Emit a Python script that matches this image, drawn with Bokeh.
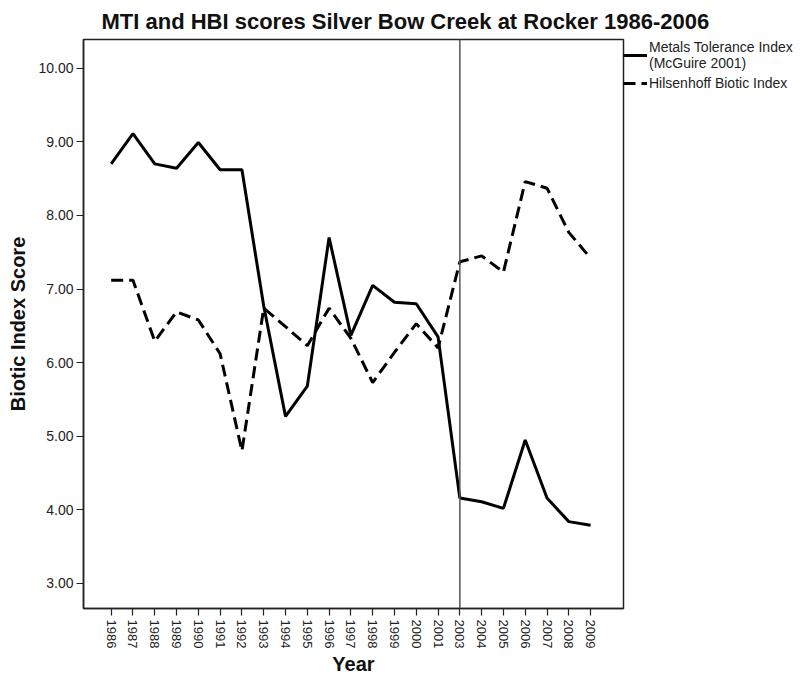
import math
from bokeh.plotting import figure
from bokeh.models import (Range1d, FixedTicker, PrintfTickFormatter, Span, Legend, LegendItem,
                          ColumnDataSource)
from bokeh.embed import file_html
from bokeh.resources import INLINE

years = ["1986", "1987", "1988", "1989", "1990", "1991", "1992", "1993", "1994", "1995",
         "1996", "1997", "1998", "1999", "2000", "2001", "2003", "2004", "2005", "2006",
         "2007", "2008", "2009"]
mti = [8.70, 9.11, 8.70, 8.64, 8.99, 8.62, 8.62, 6.77, 5.27, 5.68, 7.70, 6.37, 7.05, 6.82,
       6.80, 6.35, 4.16, 4.11, 4.02, 4.95, 4.16, 3.84, 3.79]
hbi = [7.12, 7.12, 6.29, 6.69, 6.58, 6.12, 4.80, 6.74, 6.49, 6.23, 6.74, 6.33, 5.73, 6.14,
       6.53, 6.20, 7.37, 7.45, 7.23, 8.46, 8.37, 7.77, 7.42]
y_ticks = [3, 4, 5, 6, 7, 8, 9, 10]
divider_year = "2003"

x_idx = list(range(len(years)))
src = ColumnDataSource(dict(x=x_idx, mti=mti, hbi=hbi))

FONT = "Liberation Sans"

p = figure(frame_width=540, frame_height=569,
           x_range=Range1d(-1.27, len(years) - 1 + 1.51),
           y_range=Range1d(2.66, 10.39),
           output_backend="svg", toolbar_location=None,
           min_border_left=83, min_border_right=172, min_border_top=39, min_border_bottom=66,
           background_fill_color="white", border_fill_color="white")

p.title.text = "MTI and HBI scores Silver Bow Creek at Rocker 1986-2006"
p.title.text_font = FONT
p.title.text_font_size = "22px"
p.title.text_font_style = "bold"
p.title.text_color = "#111111"
p.title.align = "left"
p.title.offset = 18
p.title.standoff = 12

p.xgrid.visible = False
p.ygrid.visible = False
p.outline_line_color = "#222222"
p.outline_line_width = 1.5

# axes
p.xaxis.ticker = FixedTicker(ticks=x_idx)
p.xaxis.major_label_overrides = {i: y for i, y in enumerate(years)}
p.xaxis.major_label_orientation = -math.pi / 2
p.xaxis.axis_label = "Year"
p.yaxis.ticker = FixedTicker(ticks=y_ticks)
p.yaxis.formatter = PrintfTickFormatter(format="%.2f")
p.yaxis.axis_label = "Biotic Index Score"
for ax in (p.xaxis[0], p.yaxis[0]):
    ax.minor_tick_line_color = None
    ax.major_tick_out = 7
    ax.major_tick_in = 0
    ax.major_tick_line_color = "#222222"
    ax.major_tick_line_width = 1.2
    ax.axis_line_color = "#222222"
    ax.axis_line_width = 1.5
    ax.major_label_text_font = FONT
    ax.major_label_text_color = "#222222"
    ax.axis_label_text_font = FONT
    ax.axis_label_text_font_style = "bold"
    ax.axis_label_text_color = "#111111"
p.yaxis.major_label_text_font_size = "14px"
p.xaxis.major_label_text_font_size = "13px"
p.yaxis.axis_label_text_font_size = "20px"
p.xaxis.axis_label_text_font_size = "20px"
p.yaxis.major_label_standoff = 3
p.xaxis.major_label_standoff = 4
p.yaxis.axis_label_standoff = 6
p.xaxis.axis_label_standoff = 2

# divider
p.add_layout(Span(location=years.index(divider_year), dimension="height",
                  line_color="#555555", line_width=1.5))

r1 = p.line("x", "mti", source=src, line_color="black", line_width=3)
r2 = p.line("x", "hbi", source=src, line_color="black", line_width=3, line_dash="12 6")

legend = Legend(items=[LegendItem(label="Metals Tolerance Index\n(McGuire 2001)", renderers=[r1]),
                       LegendItem(label="Hilsenhoff Biotic Index", renderers=[r2])],
                location="top_left", orientation="vertical",
                margin=0, padding=0, spacing=2,
                glyph_width=24, glyph_height=20, label_standoff=2,
                label_text_font=FONT, label_text_font_size="14px",
                label_text_color="#222222", label_text_line_height=1.0,
                border_line_alpha=0, background_fill_alpha=0)
p.add_layout(legend, "right")

open("out.html", "w").write(file_html(p, INLINE))
